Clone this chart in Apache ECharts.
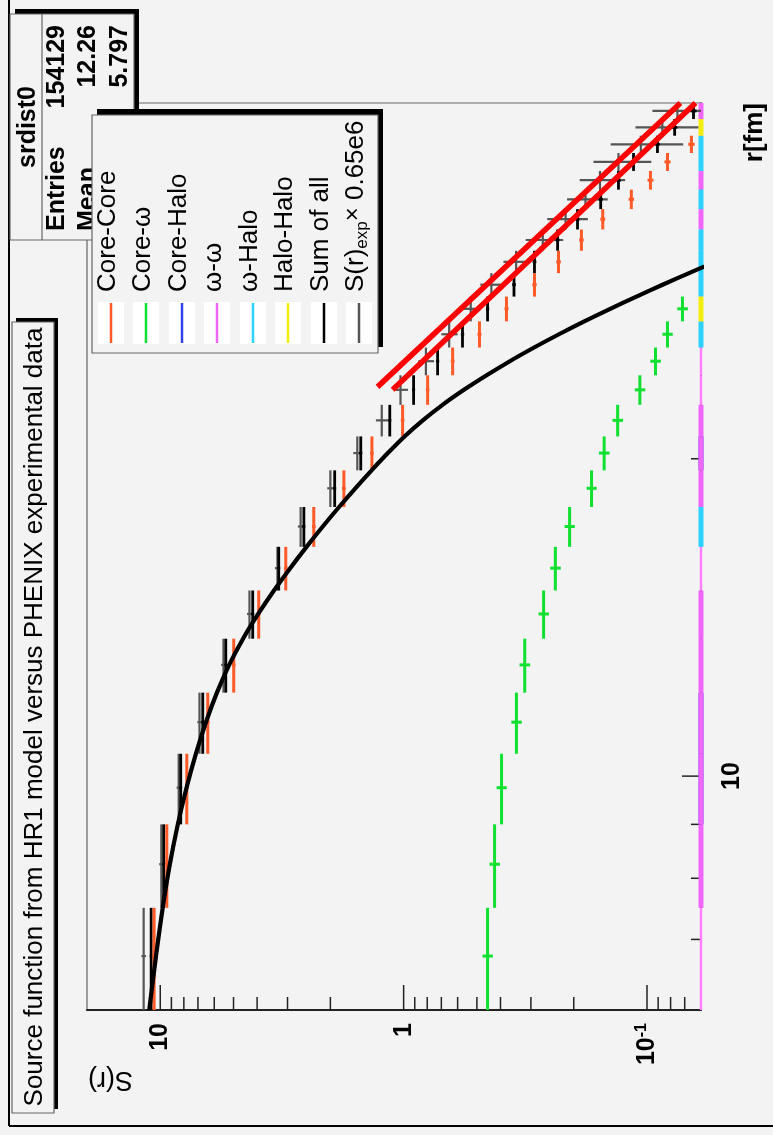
<!DOCTYPE html>
<html><head><meta charset="utf-8">
<script src="https://cdn.jsdelivr.net/npm/echarts@6/dist/echarts.min.js"></script>
<style>html,body{margin:0;padding:0;background:#f3f3f3;}#c{width:773px;height:1135px;}</style>
</head><body><div id="c"></div>
<script>
// ---------- data ----------
const rBinCenters = [6.75,8.25,9.75,11.25,12.75,14.25,15.75,17.25,18.75,20.25,21.75,23.25,24.75,26.25,27.75,29.25,30.75,32.25,33.75,35.25,36.75,38.25,39.75,41.25,42.75];
const binHalfWidth = 0.75;
const coreCore    = [10.6,9.4,7.78,6.38,4.99,3.94,3.05,2.34,1.76,1.35,1.01,0.797,0.629,0.488,0.378,0.290,0.231,0.186,0.152,0.116,0.0968,0.0824,0.0657,null,null];
const coreCoreErr = [0.16,0.14,0.12,0.10,0.08,0.06,0.05,0.04,0.03,0.022,0.017,0.013,0.011,0.009,0.007,0.006,0.005,0.004,0.0035,0.003,0.0027,0.0024,0.002,null,null];
const coreOmega    = [0.452,0.423,0.396,0.344,0.318,0.266,0.238,0.208,0.169,0.150,0.132,0.107,0.0923,0.0824,0.0715,null,null,null,null,null,null,null,null,null,null];
const coreOmegaErr = [0.022,0.021,0.019,0.017,0.016,0.013,0.012,0.010,0.008,0.0075,0.0066,0.0053,0.0046,0.004,0.0036,null,null,null,null,null,null,null,null,null,null];
const coreHalo   = [null,null,0.02,0.02,null,null,null,null,null,0.01,null,null,null,null,null,null,null,null,null,null,null,null,null,null,null];
const omegaOmega = [0,0.03,0.03,0.03,0.03,0.03,0,0,0.02,0.02,0.02,0,0,0,0,0,0,0,0.01,0,0.01,0,0,0,0.01];
const omegaHalo  = [null,null,null,null,null,null,null,0.01,null,null,null,null,null,0.01,null,0.01,0.01,0.01,null,0.01,null,0.01,0.01,null,null];
const haloHalo   = [null,null,null,null,null,null,null,null,null,null,null,null,null,null,0.005,null,null,null,null,null,null,null,null,0.005,null];
const sumAll    = [10.9,9.68,8.24,6.69,5.38,4.17,3.26,2.57,1.92,1.50,1.14,0.910,0.725,0.573,0.452,0.352,0.290,0.233,0.193,0.155,0.131,0.1136,0.0906,0.077,0.0644];
const sumAllErr = [0.15,0.13,0.11,0.09,0.07,0.06,0.045,0.035,0.027,0.021,0.016,0.013,0.011,0.009,0.007,0.006,0.005,0.004,0.0035,0.003,0.0027,0.0024,0.002,0.0019,0.0018];
const sExp    = [11.7,9.9,8.4,6.9,5.5,4.3,3.3,2.65,2.0,1.55,1.23,1.03,0.81,0.65,0.53,0.436,0.345,0.268,0.216,0.179,0.156,0.131,0.106,0.0865,0.075];
const sExpErr = [0.25,0.2,0.17,0.14,0.12,0.1,0.08,0.07,0.06,0.06,0.07,0.07,0.06,0.05,0.045,0.048,0.044,0.047,0.041,0.034,0.033,0.035,0.035,0.025,0.02];
const fitR = [6.0,6.75,7.5,8.25,9.0,9.75,10.5,11.25,12.0,12.75,13.5,14.25,15.0,15.75,16.5,17.25,18.0,18.75,19.5,20.25,21.0,21.75,22.5,23.25,24.0,24.75,25.5,26.25,27.0,27.75,28.5,29.25,30.0,30.75,31.5];
const fitS = [11.1,10.41,9.77,9.13,8.47,7.80,7.14,6.49,5.85,5.21,4.57,3.96,3.41,2.925,2.507,2.149,1.842,1.579,1.354,1.161,0.9915,0.834,0.692,0.565,0.456,0.366,0.291,0.230,0.181,0.1416,0.1105,0.0863,0.0672,0.0523,0.0407];
const redLineA_S = [1.28, 0.0729], redLineA_R = [23.4, 43.5];
const redLineB_S = [1.11, 0.0632], redLineB_R = [23.25, 43.5];
const sTickMajor = [10, 1, 0.1];
const sTickMinor = [9,8,7,6,5,4,3,2,0.9,0.8,0.7,0.6,0.5,0.4,0.3,0.2,0.09,0.08,0.07];
const rTickMajor = [10];
const rTickMinor = [7,8,9,20];
const S_MIN = 0.06, S_MAX = 20, R_MIN = 6, R_MAX = 43.5;
const legendNames = ['Core-Core','Core-ω','Core-Halo','ω-ω','ω-Halo','Halo-Halo','Sum of all','S(r)exp × 0.65e6'];
const statsLabels = ['Entries','Mean','RMS'];
const statsValues = ['154129','12.26','5.797'];

// ---------- helpers ----------
const FONT = "'Liberation Sans', Arial, Helvetica, sans-serif";
const C = {cc:'#ff5a28', co:'#10e030', ch:'#3344ee', oo:'#f066f8', oh:'#2cd2fa', hh:'#f4ee10', sum:'#000000', exp:'#555555'};
function pts(vals, errs){ return rBinCenters.map((r,i)=>[vals[i]==null?NaN:vals[i], r, errs?errs[i]:0]); }
function errBar(color, width){
  return function(params, api){
    const s = api.value(0), r = api.value(1), e = api.value(2);
    if (!(s >= S_MIN)) return null;
    const lo = api.coord([s, Math.max(r - binHalfWidth, R_MIN)]), hi = api.coord([s, r + binHalfWidth]);
    const ch = [{type:'line', shape:{x1:lo[0],y1:lo[1],x2:hi[0],y2:hi[1]}, style:{stroke:color, lineWidth:width}}];
    if (e > 0){
      const a = api.coord([Math.max(s - e, S_MIN), r]), b = api.coord([s + e, r]);
      ch.push({type:'line', shape:{x1:a[0],y1:a[1],x2:b[0],y2:b[1]}, style:{stroke:color, lineWidth:width}});
    }
    return {type:'group', children:ch};
  };
}
function edgeHist(color){
  return function(params, api){
    const s = api.value(0), r = api.value(1);
    if (isNaN(s)) return null;
    const v = Math.max(s, S_MIN);
    const lo = api.coord([v, r - binHalfWidth]), hi = api.coord([v, r + binHalfWidth]);
    return {type:'line', shape:{x1:lo[0],y1:lo[1],x2:hi[0],y2:hi[1]}, style:{stroke: s > 0 ? color : '#ff80ff', lineWidth: s > 0 ? 5 : 2.5}};
  };
}
function sTicks(len){ return function(p, api){ const v = api.value(0); const q = api.coord([v, R_MIN]);
  return {type:'line', shape:{x1:q[0],y1:q[1],x2:q[0],y2:q[1]-len}, style:{stroke:'#222', lineWidth:1.5}}; }; }
function rTicks(len){ return function(p, api){ const v = api.value(1); const q = api.coord([S_MIN, v]);
  return {type:'line', shape:{x1:q[0],y1:q[1],x2:q[0]-len,y2:q[1]}, style:{stroke:'#222', lineWidth:1.5}}; }; }
function lg(v){ return Math.round(Math.log10(v)*1000)/1000; }

// ---------- graphic (title, stats, legend, axis titles) ----------
const G = [];
function rtext(x, y, text, opt){
  opt = opt || {};
  G.push({type:'text', x:x, y:y, rotation: opt.rot==null ? Math.PI/2 : opt.rot, z: opt.z||100,
    style:{text:text, fill:'#000', font:(opt.bold?'bold ':'')+(opt.size||26)+'px '+FONT,
      align: opt.align||'left', verticalAlign:'middle', textAlign: opt.align||'left', textVerticalAlign:'middle', rich: opt.rich}});
}
function box(x, y, w, h, dx, dy, z){
  G.push({type:'rect', z:z, shape:{x:x+dx, y:y+dy, width:w, height:h}, style:{fill:'#000'}});
  G.push({type:'rect', z:z+1, shape:{x:x, y:y, width:w, height:h}, style:{fill:'#f3f3f3', stroke:'#666', lineWidth:1.2}});
}
// outer canvas border
G.push({type:'line', z:100, shape:{x1:9,y1:0,x2:9,y2:1126}, style:{stroke:'#000', lineWidth:2}});
G.push({type:'line', z:100, shape:{x1:9,y1:1126,x2:773,y2:1126}, style:{stroke:'#000', lineWidth:2}});
// title box
box(12, 322, 42, 791, 4, -4, 100);
rtext(35, 717, 'Source function from HR1 model versus PHENIX experimental data', {align:'center', size:26, z:103});
// stats box
box(10, 14, 124, 226, 5, -5, 100);
G.push({type:'line', z:103, shape:{x1:42,y1:14,x2:42,y2:240}, style:{stroke:'#666', lineWidth:1.2}});
rtext(28, 127, 'srdist0', {align:'center', bold:true, size:25, z:103});
const rowX = [57, 88, 120];
statsLabels.forEach((t,i)=>{ rtext(rowX[i], 231, t, {bold:true, size:25, z:103}); rtext(rowX[i], 25, statsValues[i], {bold:true, size:25, align:'right', z:103}); });
// legend box
box(92, 115, 286, 238, 5, -6, 110);
const legColors = [C.cc, C.co, C.ch, C.oo, C.oh, C.hh, C.sum, C.exp];
const legX = [111, 146, 182, 217, 253, 288, 324, 359];
legendNames.forEach((n,i)=>{
  const x = legX[i];
  G.push({type:'rect', z:113, shape:{x:x-13, y:302, width:26, height:42}, style:{fill:'#ffffff'}});
  G.push({type:'line', z:114, shape:{x1:x, y1:303, x2:x, y2:343}, style:{stroke:legColors[i], lineWidth:2.5}});
  if (i === 7) {
    rtext(x-3, 292, '{a|S(r)}{b|exp}{c|×}{a| 0.65e6}', {z:114, rich:{
      a:{fontSize:26, fontFamily:FONT, lineHeight:30, fill:'#000'},
      b:{fontSize:17, fontFamily:FONT, lineHeight:14, verticalAlign:'bottom', fill:'#000'},
      c:{fontSize:24, fontFamily:FONT, lineHeight:18, verticalAlign:'top', fill:'#000'}}});
  } else {
    rtext(x-3, 292, n, {z:114});
  }
});
// axis titles
rtext(755, 103, 'r[fm]', {bold:true, size:26, align:'right'});
rtext(133, 1079, 'S(r)', {size:27, rot:Math.PI});

// ---------- chart ----------
const chart = echarts.init(document.getElementById('c'), null, {renderer:'canvas'});
chart.setOption({
  animation:false,
  backgroundColor:'#f3f3f3',
  grid:{left:87, right:72, top:103, bottom:125, show:true, borderColor:'#666', borderWidth:1.2, backgroundColor:'#f3f3f3'},
  xAxis:{type:'log', logBase:10, min:S_MIN, max:S_MAX, inverse:true, position:'bottom',
    axisLine:{show:true, lineStyle:{color:'#222', width:2}}, axisTick:{show:false}, splitLine:{show:false}, minorTick:{show:false},
    axisLabel:{rotate:90, margin:13, showMinLabel:true, showMaxLabel:true,
      formatter:function(v){ const l = lg(v); if (l===1) return '{n|10}'; if (l===0) return '{n|1}'; if (l===-1) return '{n|10}{s|-1}'; return ''; },
      rich:{n:{fontSize:25, fontWeight:'bold', fontFamily:FONT, color:'#000', lineHeight:26},
            s:{fontSize:16, fontWeight:'bold', fontFamily:FONT, color:'#000', lineHeight:10, verticalAlign:'top'}}}},
  yAxis:{type:'log', logBase:10, min:R_MIN, max:R_MAX, position:'right',
    axisLine:{show:true, lineStyle:{color:'#222', width:1.5}}, axisTick:{show:false}, splitLine:{show:false}, minorTick:{show:false},
    axisLabel:{rotate:90, margin:19, fontSize:25, fontWeight:'bold', fontFamily:FONT, color:'#000',
      formatter:function(v){ return lg(v)===1 ? '10' : ''; }}},
  graphic:{elements:G},
  series:[
    {type:'custom', name:'Core-Halo', clip:false, renderItem:edgeHist(C.ch), data:pts(coreHalo), z:3},
    {type:'custom', name:'ω-ω', clip:false, renderItem:edgeHist(C.oo), data:pts(omegaOmega), z:3},
    {type:'custom', name:'ω-Halo', clip:false, renderItem:edgeHist(C.oh), data:pts(omegaHalo), z:3},
    {type:'custom', name:'Halo-Halo', clip:false, renderItem:edgeHist(C.hh), data:pts(haloHalo), z:3},
    {type:'custom', name:'Core-ω', clip:true, renderItem:errBar(C.co, 3), data:pts(coreOmega, coreOmegaErr), z:4},
    {type:'custom', name:'S(r)exp', clip:true, renderItem:errBar(C.exp, 2.2), data:pts(sExp, sExpErr), z:4},
    {type:'custom', name:'Sum of all', clip:true, renderItem:errBar(C.sum, 2.8), data:pts(sumAll, sumAllErr), z:5},
    {type:'custom', name:'Core-Core', clip:true, renderItem:errBar(C.cc, 3), data:pts(coreCore, coreCoreErr), z:5},
    {type:'line', name:'fit', data:fitR.map((r,i)=>[fitS[i], r]), showSymbol:false, smooth:0.3, clip:true,
      lineStyle:{color:'#000', width:4.2}, z:6},
    {type:'line', name:'redA', data:redLineA_R.map((r,i)=>[redLineA_S[i], r]), showSymbol:false, clip:false, lineStyle:{color:'#ff0000', width:5.5}, z:7},
    {type:'line', name:'redB', data:redLineB_R.map((r,i)=>[redLineB_S[i], r]), showSymbol:false, clip:false, lineStyle:{color:'#ff0000', width:5.5}, z:7},
    {type:'custom', clip:false, renderItem:sTicks(25), data:sTickMajor.map(v=>[v, R_MIN]), z:8, silent:true},
    {type:'custom', clip:false, renderItem:sTicks(13), data:sTickMinor.map(v=>[v, R_MIN]), z:8, silent:true},
    {type:'custom', clip:false, renderItem:rTicks(19), data:rTickMajor.map(v=>[S_MIN, v]), z:2, silent:true},
    {type:'custom', clip:false, renderItem:rTicks(10), data:rTickMinor.map(v=>[S_MIN, v]), z:2, silent:true}
  ]
});
</script></body></html>
